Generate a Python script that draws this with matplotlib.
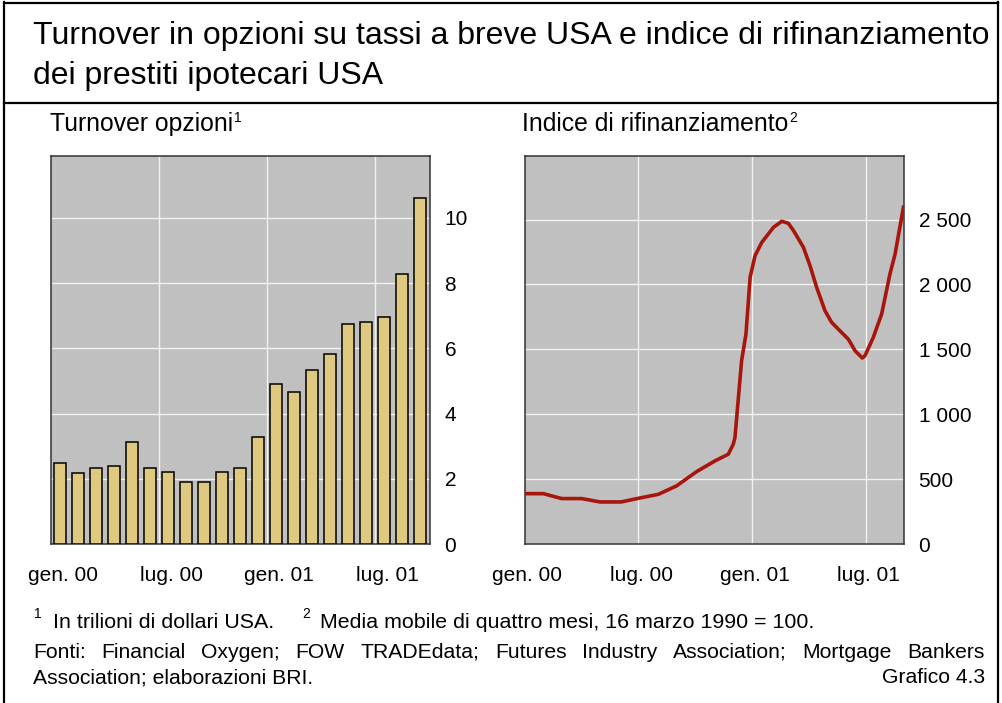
import matplotlib
matplotlib.use("Agg")
import matplotlib.pyplot as plt
from matplotlib.lines import Line2D

##############################################################################
# data

# monthly option turnover, gen. 00 .. set. 01 (trillions of USD)
turnover = [2.47, 2.17, 2.34, 2.40, 3.14, 2.34, 2.22, 1.91, 1.91, 2.22, 2.34,
            3.29, 4.92, 4.67, 5.35, 5.84, 6.76, 6.81, 6.95, 8.27, 10.60]

# refinancing index, x in months since 1 Jan 2000
refi_month = [0.0, 0.99, 1.96, 3.01, 3.98, 5.09, 6.0, 7.06, 8.02, 9.08, 10.04,
              10.75, 11.01, 11.1, 11.45, 11.68, 11.9, 12.16, 12.52, 13.13,
              13.57, 13.92, 14.19, 14.71, 15.06, 15.41, 15.85, 16.2, 16.64,
              17.08, 17.44, 17.82, 17.96, 18.4, 18.84, 19.28, 19.55, 19.99]
refi_value = [388, 388, 350, 350, 324, 324, 352, 383, 448, 558, 640,
              692, 769, 820, 1412, 1618, 2055, 2222, 2325, 2440,
              2487, 2471, 2415, 2287, 2145, 1978, 1798, 1708, 1643,
              1579, 1489, 1433, 1451, 1592, 1772, 2081, 2235, 2595]

date_labels = ["gen. 00", "lug. 00", "gen. 01", "lug. 01"]
left_ticks = [0, 2, 4, 6, 8, 10]
right_ticks = [0, 500, 1000, 1500, 2000, 2500]
right_ticklabels = ["0", "500", "1 000", "1 500", "2 000", "2 500"]

title = ["Turnover in opzioni su tassi a breve USA e indice di rifinanziamento",
         "dei prestiti ipotecari USA"]
note1 = "In trilioni di dollari USA."
note2 = "Media mobile di quattro mesi, 16 marzo 1990 = 100."
sources = "Fonti: Financial Oxygen; FOW TRADEdata; Futures Industry Association; Mortgage Bankers"
sources2 = "Association; elaborazioni BRI."
chart_no = "Grafico 4.3"

##############################################################################
# style

plt.rcParams["font.family"] = ["Liberation Sans", "DejaVu Sans"]
W, H = 1002, 703
bg = "#c0c0c0"
bar_col = "#dfc880"
line_col = "#a8150c"
grid_col = "#f2f2f2"
spine_col = "#333333"


def fx(px):
    return px / W


def fy(py):
    return 1 - py / H


fig = plt.figure(figsize=(W / 100, H / 100), dpi=100)
fig.patch.set_facecolor("white")


def style_axes(ax):
    ax.set_facecolor(bg)
    for s in ax.spines.values():
        s.set_color(spine_col)
        s.set_linewidth(1.1)
    ax.yaxis.tick_right()
    ax.tick_params(axis="both", length=0, labelsize=15)
    ax.tick_params(axis="y", pad=10.5)
    ax.grid(True, color=grid_col, linewidth=1.0)
    ax.set_axisbelow(True)


# left panel: bars
ax1 = fig.add_axes([fx(51), fy(544), fx(379), (544 - 156) / H])
style_axes(ax1)
idx = list(range(len(turnover)))
ax1.bar(idx, turnover, width=0.68, color=bar_col, edgecolor="black",
        linewidth=1.1, zorder=3)
ax1.set_xlim(-0.5, 20.55)
ax1.set_ylim(0, 11.9)
ax1.set_yticks(left_ticks)
ax1.set_yticklabels([str(t) for t in left_ticks])
ax1.set_xticks([5.5, 11.5, 17.5], minor=False)
ax1.set_xticklabels([])
ax1.set_xticks([0.17, 6.17, 12.17, 18.17], minor=True)
ax1.set_xticklabels(date_labels, minor=True)
ax1.tick_params(axis="x", which="minor", length=0, pad=16, labelsize=15)

# right panel: line
ax2 = fig.add_axes([fx(524.6), fy(544), fx(379.4), (544 - 156) / H])
style_axes(ax2)
ax2.plot(refi_month, refi_value, color=line_col, linewidth=2.6,
         solid_joinstyle="round", zorder=3)
ax2.set_xlim(0, 20.02)
ax2.set_ylim(0, 2990)
ax2.set_yticks(right_ticks)
ax2.set_yticklabels(right_ticklabels)
ax2.set_xticks([6, 12, 18], minor=False)
ax2.set_xticklabels([])
ax2.set_xticks([0.15, 6.15, 12.15, 18.15], minor=True)
ax2.set_xticklabels(date_labels, minor=True)
ax2.tick_params(axis="x", which="minor", length=0, pad=16, labelsize=15)

# frame around the whole chart
for xs, ys in [((4, 4), (2, 703)), ((998, 998), (2, 703)),
               ((4, 998), (2.5, 2.5)), ((4, 998), (103, 103))]:
    fig.add_artist(Line2D([fx(x) for x in xs], [fy(y) for y in ys],
                          color="black", linewidth=1.6))

# titles
fig.text(fx(33), fy(44), title[0], fontsize=23, va="baseline")
fig.text(fx(33), fy(84), title[1], fontsize=23, va="baseline")

renderer = fig.canvas.get_renderer()


def text_with_sup(x, y, main, sup, size, supsize, rise, gap=1.0):
    t = fig.text(fx(x), fy(y), main, fontsize=size, va="baseline")
    bb = t.get_window_extent(renderer)
    fig.text(fx(bb.x1 + gap), fy(y - rise), sup, fontsize=supsize, va="baseline")


text_with_sup(50, 131, "Turnover opzioni", "1", 17.8, 10, 9)
text_with_sup(522, 131, "Indice di rifinanziamento", "2", 17.8, 10, 9)

# footnotes
fig.text(fx(34), fy(618), "1", fontsize=10, va="baseline")
fig.text(fx(53), fy(628), note1, fontsize=15.4, va="baseline")
fig.text(fx(302), fy(618), "2", fontsize=10, va="baseline")
fig.text(fx(320), fy(628), note2, fontsize=15.4, va="baseline")

# justified source line
words = sources.split(" ")
x_left, x_right = 33, 985
arts = [fig.text(0, fy(658), w, fontsize=15.2, va="baseline") for w in words]
widths = [a.get_window_extent(renderer).width for a in arts]
gap = (x_right - x_left - sum(widths)) / (len(words) - 1)
xpos = x_left
for a, w in zip(arts, widths):
    a.set_x(fx(xpos))
    xpos += w + gap

fig.text(fx(33), fy(683), sources2, fontsize=15.2, va="baseline")
fig.text(fx(985), fy(683), chart_no, fontsize=15.2, va="baseline", ha="right")

fig.savefig("out.png", dpi=100, facecolor="white")
